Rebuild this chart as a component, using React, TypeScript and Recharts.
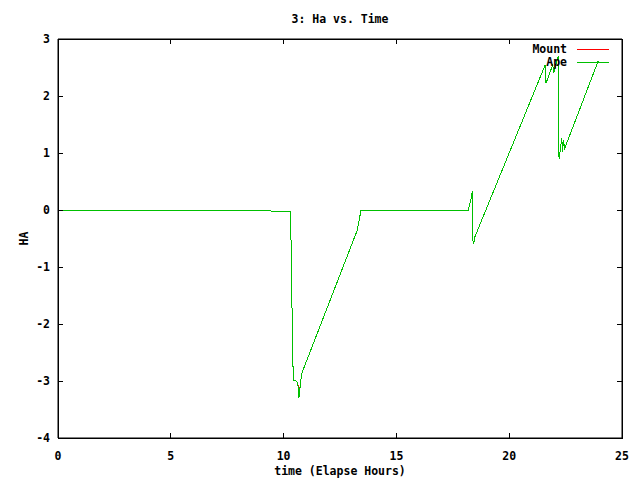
import React from 'react';
import { LineChart, Line, XAxis, YAxis, Legend, ReferenceArea } from 'recharts';

const times = [0, 9.43, 9.44, 10.3, 10.34, 10.39, 10.43, 10.54, 10.63, 10.68, 10.76, 10.82, 13.27, 13.39, 13.43, 18.19, 18.3, 18.37, 18.39, 18.42, 18.48, 21.59, 21.63, 21.93, 21.97, 22.17, 22.19, 22.21, 22.33, 22.37, 22.4, 22.46, 23.95];
const mountHa = [0, 0, -0.02, -0.02, -0.73, -2.22, -2.99, -2.99, -3.04, -3.27, -2.99, -2.85, -0.35, -0.09, 0, 0, 0.18, 0.34, -0.54, -0.6, -0.47, 2.54, 2.22, 2.55, 2.4, 2.7, 1.35, 0.89, 1.26, 1.02, 1.23, 1.08, 2.62];
const apeHa = [0, 0, -0.02, -0.02, -0.73, -2.22, -2.99, -2.99, -3.04, -3.3, -2.99, -2.85, -0.35, -0.09, 0, 0, 0.18, 0.34, -0.54, -0.6, -0.47, 2.54, 2.22, 2.55, 2.4, 2.7, 1.35, 0.89, 1.26, 1.02, 1.23, 1.08, 2.62];
const xTicks = [0, 5, 10, 15, 20, 25];
const yTicks = [-4, -3, -2, -1, 0, 1, 2, 3];
const seriesNames = ['Mount', 'Ape'];
const seriesColors = ['#ff0000', '#00c000'];
const title = '3: Ha vs. Time';
const xLabel = 'time (Elapse Hours)';
const yLabel = 'HA';

const data = times.map((t, i) => ({ t, mount: mountHa[i], ape: apeHa[i] }));

const FONT = '"DejaVu Sans Mono", monospace';
const FS = 11.5;
const TICK = 5;
const BOTTOM_MARGIN = 16;
const LEFT_MARGIN = 8;

const BottomTick = (p: any) => (
  <g>
    <line x1={p.x} x2={p.x} y1={p.y - BOTTOM_MARGIN} y2={p.y - BOTTOM_MARGIN - TICK} stroke="#000" shapeRendering="crispEdges" />
    <text x={p.x} y={p.y + 6} textAnchor="middle" fontFamily={FONT} fontSize={FS} fontWeight="bold" fill="#000">{p.payload.value}</text>
  </g>
);
const LeftTick = (p: any) => (
  <g>
    <line x1={p.x + LEFT_MARGIN} x2={p.x + LEFT_MARGIN + TICK} y1={p.y} y2={p.y} stroke="#000" shapeRendering="crispEdges" />
    <text x={p.x} y={p.y} dy="0.36em" textAnchor="end" fontFamily={FONT} fontSize={FS} fontWeight="bold" fill="#000">{p.payload.value}</text>
  </g>
);
const TopTick = (p: any) => (
  <line x1={p.x} x2={p.x} y1={p.y} y2={p.y + TICK} stroke="#000" shapeRendering="crispEdges" />
);
const RightTick = (p: any) => (
  <line x1={p.x} x2={p.x - TICK} y1={p.y} y2={p.y} stroke="#000" shapeRendering="crispEdges" />
);

const LegendContent = () => (
  <svg width={130} height={32} style={{ display: 'block' }}>
    {seriesNames.map((name, i) => (
      <g key={name}>
        <text x={67} y={13 + i * 13} textAnchor="end" fontFamily={FONT} fontSize={FS} fontWeight="bold" fill="#000">{name}</text>
        <rect x={77} width={32} y={9 + i * 13} height={1} fill={seriesColors[i]} />
      </g>
    ))}
  </svg>
);

export default function App() {
  return (
    <div style={{ position: 'absolute', left: 0, top: 0, width: 640, height: 480, background: '#fff' }}>
      <LineChart width={640} height={480} data={data} margin={{ top: 38, right: 17, bottom: 0, left: 0 }}>
        <XAxis
          xAxisId="bottom"
          dataKey="t"
          type="number"
          domain={[0, 25]}
          ticks={xTicks}
          orientation="bottom"
          height={42}
          stroke="#000"
          tickLine={false}
          tickSize={0}
          tickMargin={BOTTOM_MARGIN}
          tick={BottomTick}
          label={{
            content: (p: any) => (
              <text x={p.viewBox.x + p.viewBox.width / 2} y={475} textAnchor="middle" fontFamily={FONT} fontSize={FS} fontWeight="bold" fill="#000">{xLabel}</text>
            ),
          }}
        />
        <XAxis
          xAxisId="top"
          dataKey="t"
          type="number"
          domain={[0, 25]}
          ticks={xTicks}
          orientation="top"
          height={1}
          stroke="#000"
          tickLine={false}
          tickSize={0}
          tickMargin={0}
          tick={TopTick}
          label={{
            content: (p: any) => (
              <text x={p.viewBox.x + p.viewBox.width / 2} y={23} textAnchor="middle" fontFamily={FONT} fontSize={FS} fontWeight="bold" fill="#000">{title}</text>
            ),
          }}
        />
        <YAxis
          yAxisId="left"
          type="number"
          domain={[-4, 3]}
          ticks={yTicks}
          orientation="left"
          width={58}
          stroke="#000"
          tickLine={false}
          tickSize={0}
          tickMargin={LEFT_MARGIN}
          tick={LeftTick}
          label={{
            content: (p: any) => {
              const cy = p.viewBox.y + p.viewBox.height / 2;
              return (
                <text x={24} y={cy} transform={`rotate(-90 24 ${cy})`} textAnchor="middle" dominantBaseline="central" fontFamily={FONT} fontSize={FS} fontWeight="bold" fill="#000">{yLabel}</text>
              );
            },
          }}
        />
        <YAxis
          yAxisId="right"
          type="number"
          domain={[-4, 3]}
          ticks={yTicks}
          orientation="right"
          width={1}
          stroke="#000"
          tickLine={false}
          tickSize={0}
          tickMargin={0}
          tick={RightTick}
        />
        <ReferenceArea xAxisId="bottom" yAxisId="left" x1={0} x2={25} y1={-4} y2={3} fill="none" stroke="#000" strokeWidth={1} fillOpacity={0} shapeRendering="crispEdges" />
        <Legend
          layout="vertical"
          align="center"
          verticalAlign="middle"
          content={<LegendContent />}
          wrapperStyle={{ position: 'absolute', left: 500, top: 40, width: 130, height: 32 }}
        />
        <Line xAxisId="top" yAxisId="right" type="linear" dataKey="ape" name="hidden" stroke="none" dot={false} legendType="none" isAnimationActive={false} />
        <Line xAxisId="bottom" yAxisId="left" type="linear" dataKey="mount" name="Mount" stroke={seriesColors[0]} strokeWidth={1} dot={false} shapeRendering="crispEdges" isAnimationActive={false} />
        <Line xAxisId="bottom" yAxisId="left" type="linear" dataKey="ape" name="Ape" stroke={seriesColors[1]} strokeWidth={1} dot={false} shapeRendering="crispEdges" isAnimationActive={false} />
      </LineChart>
    </div>
  );
}
